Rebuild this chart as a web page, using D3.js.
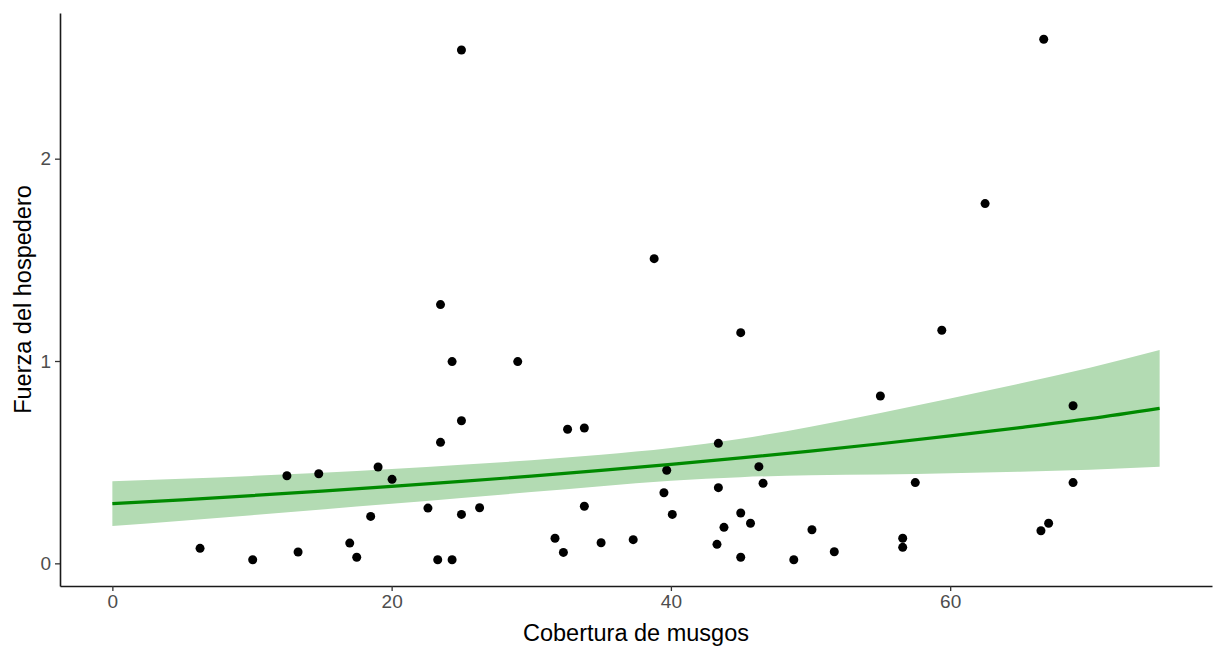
<!DOCTYPE html>
<html>
<head>
<meta charset="utf-8">
<script src="https://cdn.jsdelivr.net/npm/d3@7"></script>
<style>
    body { margin: 0; background: #ffffff; }
    svg { display: block; font-family: "Liberation Sans", Arial, sans-serif; }
</style>
</head>
<body>
<svg id="chart"></svg>
<script>
const width = 1213;
const height = 648;
const margin = { top: 13, right: 1, bottom: 62, left: 60 };

// observed points
const mossCover = [25.0, 38.8, 23.5, 66.7, 62.5, 6.28, 10.05, 12.5, 13.3, 14.78, 17.0, 17.5, 18.5, 19.03,
    20.03, 24.33, 29.03, 45.0, 25.0, 23.5, 32.6, 33.8, 43.4, 39.7, 46.3, 46.6, 43.4, 39.5, 22.6, 25.0,
    26.3, 33.8, 40.1, 45.0, 45.7, 43.8, 31.7, 32.3, 35.0, 37.3, 43.3, 45.0, 48.8, 50.1, 23.3, 24.33,
    59.4, 55.0, 68.8, 57.5, 68.8, 51.7, 56.6, 56.6, 67.05, 66.5];
const hostForce = [2.537, 1.506, 1.279, 2.59, 1.778, 0.074, 0.018, 0.433, 0.056, 0.443, 0.100, 0.030, 0.232, 0.476,
    0.415, 0.997, 0.997, 1.14, 0.705, 0.598, 0.663, 0.669, 0.593, 0.46, 0.478, 0.396, 0.374, 0.349, 0.273, 0.242,
    0.275, 0.282, 0.242, 0.249, 0.198, 0.178, 0.124, 0.054, 0.102, 0.117, 0.094, 0.030, 0.018, 0.166, 0.018, 0.018,
    1.152, 0.827, 0.779, 0.399, 0.399, 0.057, 0.124, 0.079, 0.198, 0.161];

// fitted curve and confidence band
const fitX = [0, 5, 10, 15, 20, 25, 30, 35, 40, 45, 50, 55, 60, 65, 70, 75];
const fitY = [0.295, 0.314, 0.335, 0.357, 0.380, 0.405, 0.431, 0.459, 0.489, 0.521, 0.555, 0.591, 0.630, 0.671, 0.715, 0.766];
const lowerY = [0.184, 0.210, 0.238, 0.266, 0.294, 0.323, 0.352, 0.381, 0.408, 0.426, 0.435, 0.439, 0.445, 0.453, 0.463, 0.477];
const upperY = [0.406, 0.418, 0.432, 0.448, 0.466, 0.487, 0.510, 0.537, 0.570, 0.616, 0.675, 0.743, 0.815, 0.889, 0.967, 1.055];

const xTicks = [0, 20, 40, 60];
const yTicks = [0, 1, 2];

function drawChart(svg) {
    svg.attr("width", width).attr("height", height);

    const xScale = d3.scaleLinear()
        .domain([-3.75, 78.75])
        .range([margin.left, width - margin.right]);
    const yScale = d3.scaleLinear()
        .domain([-0.112, 2.72])
        .range([height - margin.bottom, margin.top]);

    const band = fitX.map((x, i) => ({ x: x, lo: lowerY[i], hi: upperY[i], fit: fitY[i] }));

    // ribbon
    svg.append("path")
        .datum(band)
        .attr("d", d3.area()
            .x(d => xScale(d.x))
            .y0(d => yScale(d.lo))
            .y1(d => yScale(d.hi))
            .curve(d3.curveMonotoneX))
        .style("fill", "#b3dbb3");

    // points
    svg.selectAll("circle")
        .data(mossCover)
        .enter()
        .append("circle")
        .attr("cx", d => xScale(d))
        .attr("cy", (d, i) => yScale(hostForce[i]))
        .attr("r", 4.5)
        .style("fill", "#000000");

    // fitted line
    svg.append("path")
        .datum(band)
        .attr("d", d3.line()
            .x(d => xScale(d.x))
            .y(d => yScale(d.fit))
            .curve(d3.curveMonotoneX))
        .style("fill", "none")
        .style("stroke", "#008a00")
        .style("stroke-width", 3.2);

    const xAxis = d3.axisBottom(xScale).tickValues(xTicks).tickFormat(d3.format("d"))
        .tickSizeInner(5).tickSizeOuter(0).tickPadding(4);
    const yAxis = d3.axisLeft(yScale).tickValues(yTicks).tickFormat(d3.format("d"))
        .tickSizeInner(5).tickSizeOuter(0).tickPadding(4);

    const gx = svg.append("g")
        .attr("class", "x-axis")
        .attr("transform", `translate(0, ${height - margin.bottom})`)
        .call(xAxis);
    const gy = svg.append("g")
        .attr("class", "y-axis")
        .attr("transform", `translate(${margin.left}, 0)`)
        .call(yAxis);

    [gx, gy].forEach(g => {
        g.select(".domain").style("stroke", "#1a1a1a").style("stroke-width", 1.6);
        g.selectAll(".tick line").style("stroke", "#333333").style("stroke-width", 1.3);
        g.selectAll(".tick text")
            .style("fill", "#4d4d4d")
            .style("font-size", "19px")
            .style("font-family", "Liberation Sans, Arial, sans-serif");
    });

    svg.append("text")
        .attr("x", (margin.left + width - margin.right) / 2)
        .attr("y", 641)
        .attr("text-anchor", "middle")
        .style("font-size", "23.5px")
        .style("fill", "#000000")
        .text("Cobertura de musgos");

    svg.append("text")
        .attr("transform", `translate(31, ${(margin.top + height - margin.bottom) / 2}) rotate(-90)`)
        .attr("text-anchor", "middle")
        .style("font-size", "23.5px")
        .style("fill", "#000000")
        .text("Fuerza del hospedero");
}

drawChart(d3.select("#chart"));
</script>
</body>
</html>
